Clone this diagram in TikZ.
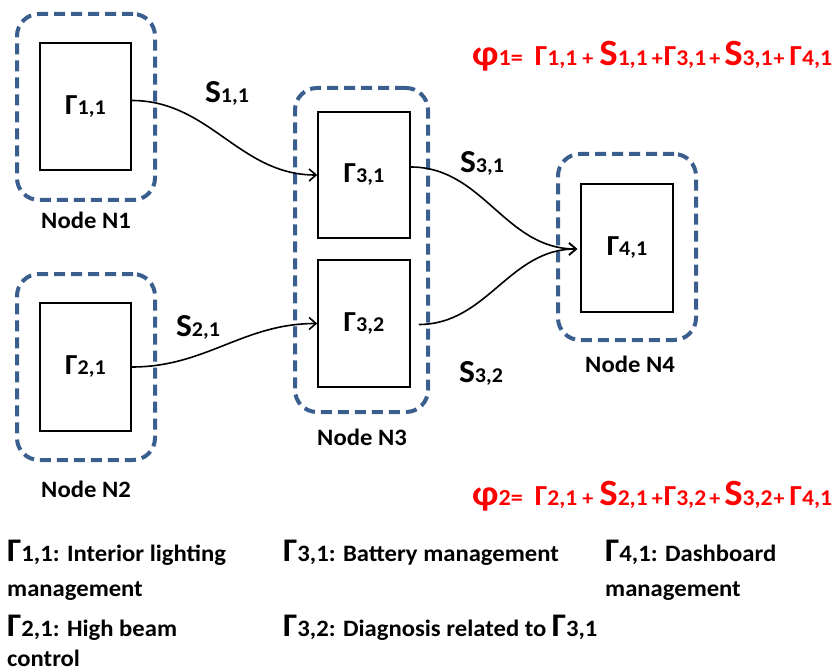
\documentclass[tikz,border=0pt]{standalone}
\usepackage{fontspec}
\setmainfont{Carlito}[FakeStretch=1.05]
\usetikzlibrary{arrows.meta}
\definecolor{dashblue}{RGB}{58,95,142}
\definecolor{formred}{RGB}{255,0,0}
\newcommand{\fs}[1]{\fontsize{#1}{#1}\selectfont}
\newcommand{\boxG}[1]{{\fs{29}Γ}{\fs{21}#1}}
\newcommand{\labS}[1]{{\fs{32}S}{\fs{21}#1}}
\newcommand{\frG}[1]{{\fs{29}Γ}{\fs{22.5}#1}}
\newcommand{\frS}[1]{{\fs{37}S}{\fs{22.5}#1}}
\newcommand{\frPl}{{\fs{21}+}}
\newcommand{\hs}[1]{\hspace{#1pt}}
\newcommand{\lgG}[1]{{\fs{33}Γ}{\fs{23.5}#1}}
\begin{document}
\begin{tikzpicture}[x=1pt,y=-1pt,
  outerbox/.style={draw=dashblue,line width=4pt,dash pattern=on 11pt off 6pt,rounded corners=22pt,minimum width=#1},
  innerbox/.style={draw=black,line width=1.5pt,font=\bfseries},
  nodelab/.style={font=\bfseries\fs{23.5},inner sep=0pt},
  conn/.style={draw=black,line width=1.6pt,-{Straight Barb[length=7pt,width=12pt,line width=1.6pt]}},
  txt/.style={anchor=base west,inner sep=0pt,font=\bfseries\fs{23.5}},
  form/.style={anchor=base west,inner sep=0pt,font=\bfseries,text=formred}]
\useasboundingbox (0,0) rectangle (838,671);
% outer dashed node boxes
\node[outerbox=138pt,minimum height=186pt] (n1) at (86,107) {};
\node[outerbox=138pt,minimum height=186pt] (n2) at (86,367) {};
\node[outerbox=133pt,minimum height=324pt] (n3) at (361.5,250) {};
\node[outerbox=138pt,minimum height=186pt] (n4) at (627,247) {};
% inner function boxes
\node[innerbox,minimum width=91pt,minimum height=127pt] (g11) at (85.5,106.5) {\boxG{1,1}};
\node[innerbox,minimum width=91pt,minimum height=128pt] (g21) at (85.5,367) {\boxG{2,1}};
\node[innerbox,minimum width=92pt,minimum height=126pt] (g31) at (364,175) {\boxG{3,1}};
\node[innerbox,minimum width=92pt,minimum height=127pt] (g32) at (364,323.5) {\boxG{3,2}};
\node[innerbox,minimum width=92pt,minimum height=128pt] (g41) at (627,248) {\boxG{4,1}};
% node labels
\node[nodelab] (l1) at (86,220) {Node N1};
\node[nodelab] (l2) at (86,489) {Node N2};
\node[nodelab] (l3) at (362,437) {Node N3};
\node[nodelab] (l4) at (630,364) {Node N4};
% signal labels
\node[inner sep=0pt,font=\bfseries] (s11) at (227,93) {\labS{1,1}};
\node[inner sep=0pt,font=\bfseries] (s21) at (198,327) {\labS{2,1}};
\node[inner sep=0pt,font=\bfseries] (s31) at (482,163) {\labS{3,1}};
\node[inner sep=0pt,font=\bfseries] (s32) at (481,373) {\labS{3,2}};
% connectors
\coordinate (c31) at ([yshift=8pt]g31.east);
\coordinate (c32) at ([xshift=8pt,yshift=-1pt]g32.east);
\coordinate (c41) at ([xshift=-3pt,yshift=-1pt]g41.west);
\draw[conn] ([yshift=6pt]g11.east) to[out=0,in=180] (g31.west);
\draw[conn] (g21.east) to[out=0,in=180] (g32.west);
\draw[conn] (c31) to[out=0,in=180] (c41);
\draw[conn] (c32) to[out=0,in=180] (c41);
% formulas
\node[form] (f1) at (472,66) {{\fs{36}φ}{\fs{23}1=}\hs{12}\frG{1,1}\hs{5}\frPl\hs{6}\frS{1,1}\hs{4}\frPl\hs{1}\frG{3,1}\hs{3}\frPl\hs{4}\frS{3,1}\hs{1}\frPl\hs{5}\frG{4,1}};
\node[form] (f2) at (472,505) {{\fs{36}φ}{\fs{23}2=}\hs{12}\frG{2,1}\hs{5}\frPl\hs{6}\frS{2,1}\hs{4}\frPl\hs{1}\frG{3,2}\hs{3}\frPl\hs{4}\frS{3,2}\hs{1}\frPl\hs{5}\frG{4,1}};
% legend
\node[txt] (t1) at (7,561) {\lgG{1,1}: Interior lighting};
\node[txt] (t1b) at (7,596) {management};
\node[txt] (t2) at (7,636) {\lgG{2,1}: High beam};
\node[txt] (t2b) at (7,666) {control};
\node[txt] (t3) at (283,561) {\lgG{3,1}: Battery management};
\node[txt] (t4) at (283,636) {\lgG{3,2}: Diagnosis related to \lgG{3,1}};
\node[txt] (t5) at (605,561) {\lgG{4,1}: Dashboard};
\node[txt] (t5b) at (605,596) {management};
\end{tikzpicture}
\end{document}
